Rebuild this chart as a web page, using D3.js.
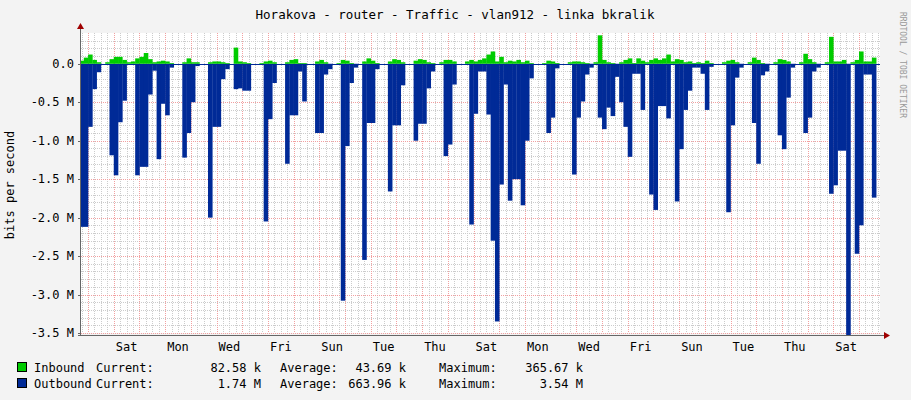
<!DOCTYPE html><html><head><meta charset="utf-8">
<script src="https://cdn.jsdelivr.net/npm/d3@7"></script>
<style>body{margin:0;background:#f3f3f3}svg{display:block;font-family:"DejaVu Sans Mono",monospace}</style></head><body>
<svg id="c" width="911" height="400"></svg>
<script>
// 4-hour bins, first bin starts 8h before the first midnight shown
const binHours = 4, startHour = -8;
const outbound = [2.12,2.12,
0.82,0.33,0.11,0,0,1.19, 1.45,0.76,0.48,0,0,1.45, 1.34,1.34,0.4,0.09,1.24,0.52,
0.67,0.05,0,0,1.22,0.9, 0.5,0.03,0,0,2.0,0.82, 0.82,0.2,0.07,0,0.33,0.32,
0.35,0.35,0,0,0,2.05, 0.72,0.25,0,0,1.3,0.67, 0.67,0.1,0.49,0,0,0.9,
0.9,0.14,0.07,0,0,3.08, 1.07,0.25,0.05,0,2.55,0.77, 0.77,0.07,0,0,1.66,0.8,
0.8,0.28,0,0,1.0,0.78, 0.78,0.32,0.1,0,0,1.2, 1.05,0.27,0,0,0,2.09,
0.65,0.1,0.1,0.66,2.3,3.35, 1.57,0.27,1.78,1.5,1.5,1.84, 1.0,0.19,0,0,0,0.9,
0.7,0.06,0,0,0,1.44, 0.7,0.49,0.14,0.05,0,0.7, 0.85,0.57,0.68,0.17,0.5,0.82,
1.21,0.13,0.13,0.6,0,1.7, 1.9,0.55,0.55,0.71,0,1.79, 1.11,0.6,0.35,0.05,0.05,0.13,
0.6,0.04,0,0,0,1.93, 0.8,0.18,0.05,0,0,0.77, 1.3,0.15,0.1,0,0,0.93,
1.11,0.44,0.05,0,0,0.9, 0.7,0.1,0.05,0,0,1.69, 1.58,1.13,1.13,3.54,0,2.47,
2.1,0.14,0.14,1.74];
const inbound = [0.04,0.08,
0.12,0.05,0.02,0,0.02,0.06, 0.09,0.09,0.05,0.02,0.03,0.07, 0.09,0.14,0.06,0.02,0.03,0.04,
0.03,0.01,0,0,0.02,0.07, 0.02,0.02,0,0,0.02,0.03, 0.03,0.02,0.01,0,0.21,0.03,
0.02,0.01,0,0,0.01,0.03, 0.04,0.02,0,0,0.02,0.05, 0.06,0.01,0.01,0,0,0.03,
0.05,0.02,0,0,0.01,0.05, 0.04,0.01,0,0,0.03,0.07, 0.04,0.01,0,0,0.03,0.06,
0.05,0.02,0,0,0.04,0.06, 0.05,0.02,0.01,0,0.02,0.05, 0.05,0.03,0,0,0.03,0.05,
0.03,0.05,0.07,0.12,0.16,0.03, 0.09,0.02,0.04,0.03,0.05,0.02, 0.04,0.01,0,0,0.01,0.04,
0.03,0.01,0,0,0.02,0.03, 0.03,0.02,0.01,0,0.02,0.37, 0.05,0.02,0.01,0,0.02,0.05,
0.07,0.01,0.07,0.04,0.02,0.05, 0.07,0.05,0.07,0.12,0.03,0.06, 0.05,0.02,0.03,0.01,0.02,0.01,
0.04,0.01,0,0,0.02,0.04, 0.05,0.02,0,0,0.02,0.08, 0.05,0.01,0,0,0.02,0.06,
0.05,0.03,0,0,0.02,0.13, 0.06,0.02,0,0,0.02,0.35, 0.03,0.03,0.05,0,0.02,0.05,
0.16,0.03,0.03,0.08];
const yTicks = [0,-0.5,-1,-1.5,-2,-2.5,-3,-3.5];
const yTickLabels = ["0.0","-0.5 M","-1.0 M","-1.5 M","-2.0 M","-2.5 M","-3.0 M","-3.5 M"];
const dayLabels = ["Sat","Mon","Wed","Fri","Sun","Tue","Thu","Sat","Mon","Wed","Fri","Sun","Tue","Thu","Sat"];
const dayLabelDays = [1,3,5,7,9,11,13,15,17,19,21,23,25,27,29];
const legend = [
 {name:"Inbound",color:"#00cc00",cur:"82.58 k",avg:"43.69 k",max:"365.67 k"},
 {name:"Outbound",color:"#002a97",cur:"1.74 M",avg:"663.96 k",max:"3.54 M"}];

const svg=d3.select("#c");
const L=81,R=880,T=33,B=333;
const x=d3.scaleLinear().domain([-6.6,739.6]).range([L,R]);
const y=d3.scaleLinear().domain([0.4,-3.5]).range([T,B]);
svg.append("rect").attr("x",L).attr("y",T).attr("width",R-L).attr("height",B-T).attr("fill","#fff");
const g=svg.append("g");
for(let h=-6;h<=739;h+=6){ if(h%24===0) continue;
 g.append("line").attr("x1",Math.round(x(h))+.5).attr("x2",Math.round(x(h))+.5).attr("y1",T).attr("y2",B).attr("stroke","#ccc").attr("stroke-dasharray","1,1");}
for(let v=0.3;v>=-3.45;v-=0.1){ const yy=Math.round(y(v))+.5;
 g.append("line").attr("x1",L).attr("x2",R).attr("y1",yy).attr("y2",yy).attr("stroke","#ccc").attr("stroke-dasharray","1,1");}
for(let h=0;h<=739;h+=24){ g.append("line").attr("x1",Math.round(x(h))+.5).attr("x2",Math.round(x(h))+.5).attr("y1",T).attr("y2",B).attr("stroke","#f2a0a0").attr("stroke-dasharray","1,1");}
yTicks.forEach(v=>{const yy=Math.round(y(v))+.5;g.append("line").attr("x1",L).attr("x2",R).attr("y1",yy).attr("y2",yy).attr("stroke","#f2a0a0").attr("stroke-dasharray","1,1");});
svg.append("clipPath").attr("id","cp").append("rect").attr("x",L).attr("y",T).attr("width",R-L).attr("height",B-T+2);
const dg=svg.append("g").attr("clip-path","url(#cp)");
const bx=i=>x(startHour+i*binHours);
dg.selectAll(".o").data(outbound).join("rect").attr("x",(d,i)=>bx(i)).attr("width",(d,i)=>bx(i+1)-bx(i)+0.3)
 .attr("y",y(0)).attr("height",d=>y(-d)-y(0)).attr("fill","#002a97");
dg.selectAll(".i").data(inbound).join("rect").attr("x",(d,i)=>bx(i)).attr("width",(d,i)=>bx(i+1)-bx(i)+0.3)
 .attr("y",d=>y(d)).attr("height",d=>y(0)-y(d)).attr("fill","#00cc00");
svg.append("line").attr("x1",L).attr("x2",R).attr("y1",Math.round(y(0))+.5).attr("y2",Math.round(y(0))+.5).attr("stroke","#002a97");
svg.append("line").attr("x1",L-0.5).attr("x2",L-0.5).attr("y1",B+3).attr("y2",T-5).attr("stroke","#666");
svg.append("line").attr("x1",L-3).attr("x2",R+5).attr("y1",B+2.5).attr("y2",B+2.5).attr("stroke","#666");
svg.append("path").attr("d",`M${L-4},${T-4}L${L+3},${T-4}L${L-0.5},${T-10}Z`).attr("fill","#a00000");
svg.append("path").attr("d",`M${R+4},${B-1}L${R+4},${B+6}L${R+10},${B+2.5}Z`).attr("fill","#a00000");
yTicks.forEach((v,i)=>{svg.append("text").attr("x",74).attr("y",y(v)+4).attr("text-anchor","end").attr("font-size",12).attr("fill","#000").text(yTickLabels[i]);
 svg.append("line").attr("x1",L-3).attr("x2",L).attr("y1",Math.round(y(v))+.5).attr("y2",Math.round(y(v))+.5).attr("stroke","#666");});
dayLabels.forEach((t,i)=>svg.append("text").attr("x",x(dayLabelDays[i]*24+12)).attr("y",351).attr("text-anchor","middle").attr("font-size",12).text(t));
svg.append("text").attr("x",455).attr("y",19).attr("text-anchor","middle").attr("font-size",12.5).text("Horakova - router - Traffic - vlan912 - linka bkralik");
svg.append("text").attr("transform","translate(14,185) rotate(-90)").attr("text-anchor","middle").attr("font-size",12).text("bits per second");
svg.append("text").attr("transform","translate(900,12) rotate(90)").attr("font-size",8).attr("fill","#999").text("RRDTOOL / TOBI OETIKER");
legend.forEach((d,i)=>{const yy=372+i*16;
 svg.append("rect").attr("x",17.5).attr("y",yy-9.5).attr("width",9).attr("height",9).attr("fill",d.color).attr("stroke","#000");
 const t=(xx,s,a)=>svg.append("text").attr("x",xx).attr("y",yy).attr("font-size",12).attr("text-anchor",a||"start").text(s);
 t(34,d.name); t(96,"Current:"); t(261,d.cur,"end"); t(280,"Average:"); t(406,d.avg,"end"); t(439,"Maximum:"); t(583,d.max,"end");});
</script></body></html>
